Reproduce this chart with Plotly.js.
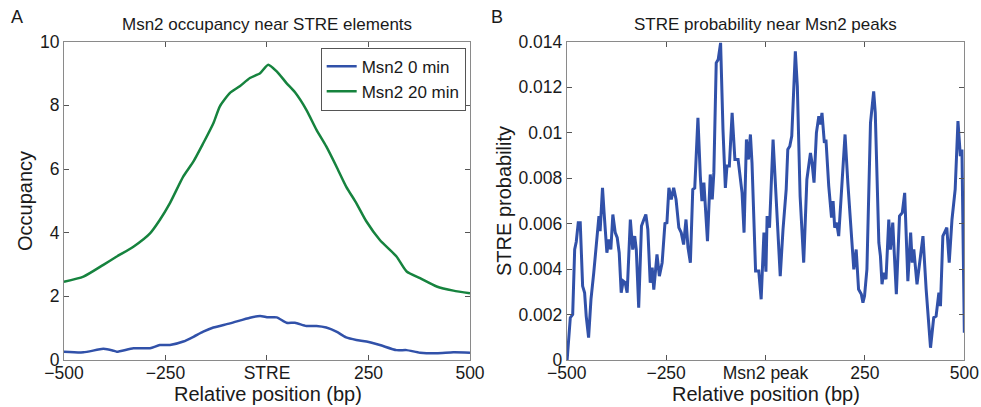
<!DOCTYPE html>
<html>
<head>
<meta charset="utf-8">
<script src="https://cdn.plot.ly/plotly-3.0.1.min.js"></script>
<style>html,body{margin:0;padding:0;background:#fff;}#chart{width:981px;height:407px;}</style>
</head>
<body>
<div id="chart"></div>
<script>
// Panel A: Msn2 occupancy near STRE elements
const occX = [-500,-452,-403,-370,-329,-288,-264,-239,-206,-181,-157,-132,-116,-91,-67,-42,-17,3,24,48,69,97,122,146,171,195,220,245,278,319,344,377,418,459,500];
const occ20 = [2.46,2.62,2.99,3.25,3.56,3.98,4.40,4.93,5.77,6.24,6.81,7.44,7.97,8.39,8.60,8.86,9.01,9.28,9.07,8.70,8.41,7.86,7.23,6.71,6.08,5.45,4.93,4.35,3.77,3.25,2.78,2.57,2.31,2.18,2.10];
const occ0X = [-500,-452,-403,-380,-370,-329,-288,-264,-239,-206,-181,-157,-132,-91,-42,-17,3,24,48,69,97,122,146,171,195,220,245,278,319,344,377,418,459,500];
const occ0 = [0.26,0.24,0.35,0.30,0.26,0.37,0.37,0.47,0.47,0.58,0.73,0.89,1.02,1.15,1.33,1.38,1.34,1.34,1.17,1.17,1.07,1.07,1.02,0.89,0.71,0.63,0.58,0.47,0.31,0.31,0.23,0.21,0.24,0.23];

// Panel B: STRE probability near Msn2 peaks
const streX = [-499,-495,-491,-485,-480,-476,-471,-466,-460,-455,-451,-445,-439,-432,-424,-419,-416,-410,-406,-399,-394,-389,-384,-378,-373,-368,-363,-358,-353,-348,-340,-334,-329,-325,-319,-312,-306,-301,-296,-290,-285,-281,-273,-267,-260,-253,-248,-243,-237,-231,-225,-218,-212,-206,-200,-195,-189,-183,-178,-170,-164,-160,-155,-146,-139,-134,-130,-124,-119,-113,-107,-101,-97,-91,-84,-77,-69,-63,-59,-54,-48,-43,-38,-34,-25,-17,-11,-4,1,4,10,19,27,37,44,52,56,61,66,75,80,87,96,104,113,117,122,128,134,138,142,148,152,159,166,170,174,179,184,192,200,207,213,222,228,234,241,245,249,255,264,272,276,285,289,293,297,303,310,314,320,323,329,337,344,350,358,365,369,373,381,396,404,415,423,429,436,440,446,456,462,469,477,484,490,494,500];
const streP = [0,0.0012,0.00186,0.0020,0.00486,0.0052,0.00604,0.00604,0.00325,0.00296,0.00193,0.00098,0.00267,0.00384,0.0056,0.00633,0.00567,0.00757,0.00648,0.00472,0.0053,0.00486,0.0064,0.0056,0.00538,0.00472,0.00296,0.00347,0.0034,0.00296,0.00618,0.00486,0.00545,0.00486,0.0023,0.00589,0.00618,0.0064,0.00574,0.0034,0.00406,0.0031,0.00464,0.00369,0.00428,0.006,0.00604,0.00757,0.00706,0.00757,0.00706,0.00582,0.0056,0.00508,0.00618,0.00494,0.00428,0.0075,0.00757,0.01065,0.00809,0.00699,0.0078,0.00523,0.00816,0.00706,0.00823,0.01307,0.01322,0.01395,0.01014,0.00757,0.00853,0.00853,0.01087,0.00882,0.00882,0.0078,0.00735,0.0056,0.0097,0.00882,0.00992,0.00867,0.00391,0.00391,0.00267,0.0056,0.00388,0.00633,0.00582,0.0097,0.0072,0.00369,0.00574,0.0075,0.00926,0.0094,0.00985,0.01358,0.01204,0.0072,0.00428,0.00794,0.00911,0.00867,0.0078,0.00999,0.01072,0.01036,0.01087,0.00955,0.0097,0.00765,0.00626,0.00699,0.00582,0.00604,0.00545,0.00765,0.00992,0.0078,0.00626,0.00399,0.00486,0.00311,0.00289,0.00252,0.00281,0.00399,0.01043,0.01182,0.01087,0.00516,0.00457,0.00333,0.00384,0.00355,0.00618,0.00486,0.00604,0.00486,0.00289,0.00633,0.00648,0.00735,0.00347,0.0056,0.00428,0.00486,0.00333,0.00545,0.00311,0.00054,0.00186,0.00193,0.00296,0.00237,0.00545,0.00582,0.00428,0.00618,0.0075,0.01051,0.00897,0.00926,0.0012];

const xTickVals = [-500,-250,0,250,500];
const xTickTextA = ['\u2212500','\u2212250','STRE','250','500'];
const xTickTextB = ['\u2212500','\u2212250','Msn2 peak','250','500'];
const yTickValsA = [0,2,4,6,8,10];
const yTickValsB = [0,0.002,0.004,0.006,0.008,0.01,0.012,0.014];
const yTickTextB = ['0','0.002','0.004','0.006','0.008','0.01','0.012','0.014'];

const blue = '#3151a9';
const green = '#16833e';
const FONT = 'Liberation Sans, Arial, sans-serif';
const TXT = '#1a1a1a';

const traces = [
  {x: occ0X, y: occ0, type: 'scatter', mode: 'lines', name: 'Msn2 0 min',
   line: {color: blue, width: 2.5, shape: 'spline', smoothing: 0.6}, xaxis: 'x', yaxis: 'y'},
  {x: occX, y: occ20, type: 'scatter', mode: 'lines', name: 'Msn2 20 min',
   line: {color: green, width: 2.5, shape: 'spline', smoothing: 0.6}, xaxis: 'x', yaxis: 'y'},
  {x: streX, y: streP, type: 'scatter', mode: 'lines', name: 'STRE',
   line: {color: blue, width: 3}, xaxis: 'x2', yaxis: 'y2', showlegend: false}
];

const axCommon = {
  showgrid: false, zeroline: false, showline: true, linecolor: '#8a8a8a', linewidth: 1,
  mirror: 'ticks', ticks: 'inside', ticklen: 5, tickcolor: '#555', tickwidth: 1,
  tickfont: {family: FONT, size: 17.5, color: TXT}, fixedrange: true
};

const layout = {
  width: 981, height: 407,
  margin: {l: 0, r: 0, t: 0, b: 0},
  paper_bgcolor: '#fff', plot_bgcolor: '#fff',
  font: {family: FONT, color: TXT},
  xaxis: Object.assign({}, axCommon, {domain: [0.0652, 0.4791], range: [-500, 500],
    tickmode: 'array', tickvals: xTickVals, ticktext: xTickTextA, anchor: 'y', ticklabelstandoff: -3}),
  yaxis: Object.assign({}, axCommon, {domain: [0.1155, 0.8975], range: [0, 10],
    tickmode: 'array', tickvals: yTickValsA, ticktext: yTickValsA.map(String), anchor: 'x'}),
  xaxis2: Object.assign({}, axCommon, {domain: [0.5777, 0.983], range: [-500, 500],
    tickmode: 'array', tickvals: xTickVals, ticktext: xTickTextB, anchor: 'y2', ticklabelstandoff: -3}),
  yaxis2: Object.assign({}, axCommon, {domain: [0.1155, 0.8975], range: [0, 0.014],
    tickmode: 'array', tickvals: yTickValsB, ticktext: yTickTextB, anchor: 'x2'}),
  showlegend: true,
  legend: {x: 0.4747, y: 0.8828, xanchor: 'right', yanchor: 'top',
    bgcolor: '#fff', bordercolor: '#555', borderwidth: 1,
    font: {family: FONT, size: 17, color: TXT}, tracegroupgap: 0},
  annotations: [
    {text: 'A', x: 17/981, y: 1 - 16.5/407, xref: 'paper', yref: 'paper', showarrow: false,
     xanchor: 'center', yanchor: 'middle', font: {family: FONT, size: 18, color: TXT}},
    {text: 'B', x: 497.5/981, y: 1 - 16.5/407, xref: 'paper', yref: 'paper', showarrow: false,
     xanchor: 'center', yanchor: 'middle', font: {family: FONT, size: 18, color: TXT}},
    {text: 'Msn2 occupancy near STRE elements', x: 267/981, y: 1 - 24/407, xref: 'paper', yref: 'paper',
     showarrow: false, xanchor: 'center', yanchor: 'middle', font: {family: FONT, size: 17, color: TXT}},
    {text: 'STRE probability near Msn2 peaks', x: 765.5/981, y: 1 - 24/407, xref: 'paper', yref: 'paper',
     showarrow: false, xanchor: 'center', yanchor: 'middle', font: {family: FONT, size: 17, color: TXT}},
    {text: 'Relative position (bp)', x: 268/981, y: 1 - 394/407, xref: 'paper', yref: 'paper',
     showarrow: false, xanchor: 'center', yanchor: 'middle', font: {family: FONT, size: 20, color: TXT}},
    {text: 'Relative position (bp)', x: 766/981, y: 1 - 394/407, xref: 'paper', yref: 'paper',
     showarrow: false, xanchor: 'center', yanchor: 'middle', font: {family: FONT, size: 20, color: TXT}},
    {text: 'Occupancy', x: 25/981, y: 1 - 201/407, xref: 'paper', yref: 'paper', textangle: -90,
     showarrow: false, xanchor: 'center', yanchor: 'middle', font: {family: FONT, size: 20, color: TXT}},
    {text: 'STRE probability', x: 504/981, y: 1 - 201/407, xref: 'paper', yref: 'paper', textangle: -90,
     showarrow: false, xanchor: 'center', yanchor: 'middle', font: {family: FONT, size: 20, color: TXT}}
  ]
};

Plotly.newPlot('chart', traces, layout, {staticPlot: true, displayModeBar: false});
</script>
</body>
</html>
